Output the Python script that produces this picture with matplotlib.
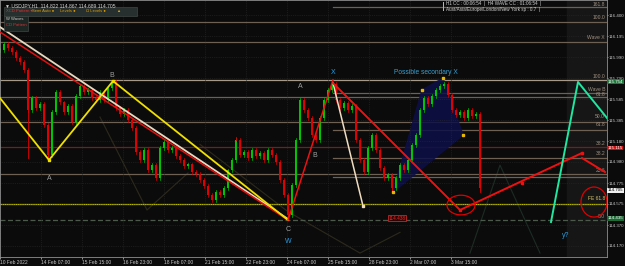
import matplotlib.pyplot as plt
from matplotlib.patches import Ellipse, Polygon, Rectangle
from matplotlib import transforms
import numpy as np

plt.rcParams['font.family'] = ['Liberation Sans', 'DejaVu Sans']

# closes, one candle per 4 bar units
closes = [116.062, 116.120, 116.081, 116.043, 115.985, 115.946, 115.869, 115.482, 115.598, 115.502,
          115.540, 115.337, 115.047, 115.463, 115.656, 115.559, 115.463, 115.521, 115.366, 115.617,
          115.714, 115.656, 115.675, 115.598, 115.579, 115.656, 115.579, 115.695, 115.753, 115.502,
          115.444, 115.482, 115.386, 115.308, 115.076, 114.999, 115.096, 114.902, 114.951, 114.825,
          115.115, 115.173, 115.096, 115.115, 115.038, 114.999, 114.941, 114.960, 114.883, 114.864,
          114.806, 114.748, 114.661, 114.613, 114.690, 114.661, 114.729, 114.902, 114.999, 115.192,
          115.047, 115.076, 115.018, 115.096, 115.038, 115.067, 114.999, 115.096, 115.047, 114.980,
          114.806, 114.661, 114.468, 114.758, 115.192, 115.579, 115.482, 115.405, 115.241, 115.192,
          115.405, 115.579, 115.675, 115.733, 115.579, 115.502, 115.550, 115.482, 115.521, 115.192,
          114.999, 114.883, 115.115, 115.241, 115.096, 114.922, 114.825, 114.854, 114.729, 114.825,
          114.951, 114.902, 114.999, 115.144, 115.241, 115.482, 115.598, 115.540, 115.617, 115.675,
          115.714, 115.733, 115.627, 115.482, 115.434, 115.463, 115.405, 115.482, 115.424, 115.444,
          114.729]
# long wicks (bar position, extreme price)
wick_x = [28, 48, 236, 288, 392, 480]
wick_p = [115.018, 114.999, 115.221, 114.419, 114.690, 114.690]

time_labels = ['10 Feb 2022', '14 Feb 07:00', '15 Feb 15:00', '16 Feb 23:00', '18 Feb 07:00',
               '21 Feb 15:00', '22 Feb 23:00', '24 Feb 07:00', '25 Feb 15:00', '28 Feb 23:00',
               '2 Mar 07:00', '3 Mar 15:00']
price_ticks = [116.400, 116.195, 115.990, 115.790, 115.585, 115.385, 115.180, 114.980,
               114.775, 114.575, 114.370, 114.170]

# levels
full_levels = [116.332, 116.139, 115.772, 115.608, 115.366, 115.125, 114.864, 114.574, 114.419]
full_colors = ['#6e6052', '#6e6052', '#a89a88', '#6e6052', '#6e6052', '#7a1c1c', '#6e6052', '#b8b800', '#4c5a4c']
part_levels = [116.477, 115.646, 115.289, 115.018, 114.835]
level_names = ['161.8', '100.0', 'Wave X', '100.0', 'Wave B', '61.8', '50.0', '61.8', '38.2', '38.2', '23.6', 'FE 61.8', '0.0']
level_name_p = [116.480, 116.350, 116.160, 115.778, 115.655, 115.610, 115.400, 115.315, 115.130, 115.035, 114.875, 114.600, 114.430]

# pattern lines (bar position, price)
beige_x, beige_p = [0, 288], [116.284, 114.429]
red_x, red_p = [0, 288], [116.236, 114.419]
yellow_x, yellow_p = [0, 49, 113, 288], [115.598, 114.999, 115.762, 114.419]
wx_x, wx_p = [288, 333], [114.419, 115.772]
xproj_x, xproj_p = [333, 363], [115.743, 114.555]
red2_x, red2_p = [333, 460, 582], [115.743, 114.516, 115.067]
red3_x, red3_p = [582, 605], [115.018, 114.883]
teal_x, teal_p = [551, 578, 607], [114.400, 115.753, 115.405]
box_x, box_p = [393, 422, 443, 463], [114.690, 115.675, 115.791, 115.241]

bg = '#0b0b0b'
fig = plt.figure(figsize=(6.25, 2.66), dpi=100, facecolor=bg)
ax = fig.add_axes([0, 9 / 266, 607 / 625, 257 / 266])
ax.set_facecolor(bg)
ax.set_xlim(0, 607)
ax.set_ylim(114.062, 116.545)

ax.axvspan(567, 607, color='#161616', zorder=0)

tick_pos = np.arange(len(time_labels)) * 41
ax.set_xticks(tick_pos)
ax.set_xticklabels(time_labels, fontsize=3.5, color='#c8c8c8', ha='left')
ax.set_yticks(price_ticks)
ax.set_yticklabels(['%.3f' % p for p in price_ticks], fontsize=3.2, color='#c8c8c8')
ax.yaxis.tick_right()
ax.tick_params(axis='y', length=0.8, pad=0.6, colors='#c8c8c8', width=0.5)
ax.tick_params(axis='x', length=1.2, pad=1, colors='#c8c8c8', width=0.5)
for s in ax.spines.values():
    s.set_color('#909090')
    s.set_linewidth(0.6)
ax.grid(True, color='#2a2a2a', linestyle=':', linewidth=0.5)

# faint old pattern lines
ax.plot([100, 147, 188], [115.414, 114.516, 114.874], color='#2c2a1c', lw=0.8, zorder=1)
ax.plot([200, 288, 360, 400], [115.150, 114.500, 114.100, 114.300], color='#2c2a1c', lw=0.8, zorder=1)
ax.plot([470, 500, 540], [114.100, 114.950, 114.100], color='#1c2c24', lw=0.8, zorder=1)

for p, c in zip(full_levels, full_colors):
    ls = (0, (4, 2)) if p == 114.419 else '-'
    ax.axhline(p, color=c, lw=0.9, ls=ls, zorder=1)
for p in part_levels:
    ax.plot([333, 607], [p, p], color='#6e6052', lw=0.9, zorder=1)
for name, p in zip(level_names, level_name_p):
    ax.text(605, p, name, fontsize=3.6, color='#d8c060' if name == 'FE 61.8' else '#a09080',
            ha='right', va='bottom', zorder=3)

# candles
opens = [closes[0]] + closes[:-1]
cx = np.arange(len(closes)) * 4
for x, o, c in zip(cx, opens, closes):
    col = '#00c400' if c >= o else '#e00000'
    ax.bar(x, max(abs(c - o), 0.006), bottom=min(o, c), width=1.8, color=col, zorder=2)
    ax.plot([x, x], [min(o, c) - 0.015, max(o, c) + 0.015], color=col, lw=0.5, zorder=2)
for x, p in zip(wick_x, wick_p):
    i = x // 4
    ax.plot([x, x], [closes[i], p], color='#e00000', lw=0.6, zorder=2)

ax.add_patch(Polygon(list(zip(box_x, box_p)), closed=True, color='#0d0f48', alpha=0.85, zorder=1.5))
ax.plot(box_x, box_p, 's', color='#e8b800', ms=1.6, zorder=4)

ax.plot(beige_x, beige_p, color='#e8d8c0', lw=1.3, zorder=3)
ax.plot(red_x, red_p, color='#e01010', lw=1.1, zorder=3)
ax.plot(yellow_x, yellow_p, color='#f0e000', lw=1.3, zorder=3)
ax.plot(yellow_x[1:3], yellow_p[1:3], 's', color='#f0e000', ms=1.6, zorder=4)
ax.plot(wx_x, wx_p, color='#f01010', lw=1.1, zorder=3)
ax.plot(xproj_x, xproj_p, color='#f0dcc0', lw=1.1, zorder=3)
ax.plot(xproj_x[1], xproj_p[1], 's', color='#f0dcc0', ms=1.6, zorder=4)
ax.plot(red2_x, red2_p, color='#f01010', lw=1.4, zorder=3)
ax.plot(red3_x, red3_p, color='#f01010', lw=1.4, zorder=3)
ax.plot([red2_x[1], red2_x[2], 522], [red2_p[1], red2_p[2], 114.777], 's', color='#f01010', ms=2, zorder=4)
ax.plot(teal_x, teal_p, color='#20e8a0', lw=1.4, zorder=3)

ax.add_patch(Ellipse((461, 114.564), 28, 0.19, fill=False, ec='#e00000', lw=0.9, zorder=4))
ax.add_patch(Ellipse((594, 114.593), 26, 0.29, fill=False, ec='#e00000', lw=0.9, zorder=4))

lbl = dict(fontsize=5, ha='center', va='center', zorder=5)
ax.text(49, 114.825, 'A', color='#a0a0a0', **lbl)
ax.text(112, 115.820, 'B', color='#a0a0a0', **lbl)
ax.text(288, 114.332, 'C', color='#a0a0a0', **lbl)
ax.text(288, 114.207, 'W', color='#2a9ee0', **lbl)
ax.text(333, 115.840, 'X', color='#2a9ee0', **lbl)
ax.text(300, 115.714, 'A', color='#a0a0a0', **lbl)
ax.text(315, 115.047, 'B', color='#a0a0a0', **lbl)
ax.text(566, 114.265, 'y?', color='#2a9ee0', **lbl)
ax.text(394, 115.840, 'Possible secondary X', color='#3aa0d0', fontsize=4.8, ha='left', va='center', zorder=5)
ax.text(397, 114.438, '114.438', color='#e03030', fontsize=3.4, ha='center', va='center', zorder=5,
        bbox=dict(boxstyle='square,pad=0.15', fc='#300000', ec='#e03030', lw=0.5))

# price tags on the right axis
tr = transforms.blended_transform_factory(ax.transAxes, ax.transData)
tags = [(115.754, '#1c7a3a', 'white'), (115.115, '#d01010', 'white'),
        (114.705, '#f0f0f0', 'black'), (114.435, '#1c6a34', 'white')]
for p, fc, tc in tags:
    ax.text(1.001, p, '%.3f' % p, transform=tr, fontsize=3.2, color=tc, ha='left', va='center',
            clip_on=False, zorder=6, bbox=dict(boxstyle='square,pad=0.1', fc=fc, ec='none'))

# header and panels
fig.text(0.008, 0.988, '\u25bc USDJPY,H1  114.822 114.867 114.689 114.705', fontsize=3.6,
         color='#d0d0d0', va='top')
fig.patches.append(Rectangle((4 / 625, 1 - 16 / 266), 133 / 625, 9 / 266, transform=fig.transFigure,
                             fc='#27302e', ec='#4a5250', lw=0.4))
fig.patches.append(Rectangle((4 / 625, 1 - 31 / 266), 24 / 625, 15 / 266, transform=fig.transFigure,
                             fc='#1e2624', ec='#4a5250', lw=0.4))
btns = [(6, 'XCD Pattern \u25be', '#e03030'), (32, 'Semi Auto \u25cf', '#e0a000'),
        (60, 'Levels \u25cf', '#e0a000'), (86, '\u03a9 Levels \u25cf', '#e0a000'), (116, '\u25b2', '#e0a000')]
for x, t, c in btns:
    fig.text(x / 625, 1 - 11.5 / 266, t, fontsize=3.0, color=c, va='center')
fig.text(6 / 625, 1 - 19.5 / 266, 'W Waves', fontsize=3.0, color='#d0d0d0', va='center')
fig.text(6 / 625, 1 - 25 / 266, 'CD Pattern', fontsize=3.0, color='#e03030', va='center')
fig.patches.append(Rectangle((443 / 625, 1 - 11 / 266), 0.8 / 625, 9 / 266, transform=fig.transFigure,
                             fc='#e0c000', ec='none'))
fig.text(446 / 625, 1 - 4 / 266, 'H1 CC : 00:06:54  |  H4 WAVE CC : 01:06:54  |', fontsize=3.3,
         color='#d0d0d0', va='center')
fig.text(446 / 625, 1 - 9.5 / 266, 'Aust/Asia/Europe/London/New York sp : 0.7  |', fontsize=3.3,
         color='#d0d0d0', va='center')

fig.savefig('out.png', dpi=100, facecolor=bg)
